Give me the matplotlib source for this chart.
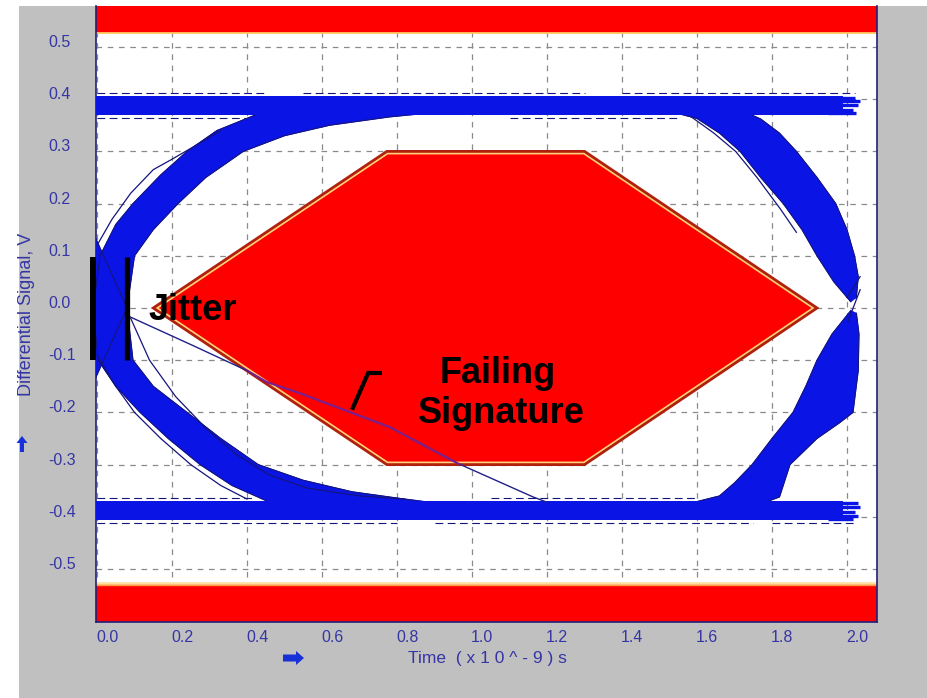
import matplotlib
matplotlib.use("Agg")
import matplotlib.pyplot as plt
from matplotlib.patches import Polygon, Rectangle
from matplotlib.transforms import offset_copy, IdentityTransform

plt.rcParams['font.family'] = ['Liberation Sans', 'DejaVu Sans']

# ---------------------------------------------------------------- data
X_TICKS = [0.0, 0.2, 0.4, 0.6, 0.8, 1.0, 1.2, 1.4, 1.6, 1.8, 2.0]
X_TICK_LABELS = ['0.0', '0.2', '0.4', '0.6', '0.8', '1.0', '1.2', '1.4', '1.6', '1.8', '2.0']
Y_TICKS = [0.5, 0.4, 0.3, 0.2, 0.1, 0.0, -0.1, -0.2, -0.3, -0.4, -0.5]
Y_TICK_LABELS = ['0.5', '0.4', '0.3', '0.2', '0.1', '0.0', '-0.1', '-0.2', '-0.3', '-0.4', '-0.5']

# eye mask (hexagon) and the upper / lower limit bands
MASK_X = [0.15, 0.773, 1.30, 1.92, 1.30, 0.773]
MASK_Y = [0.0, 0.30, 0.30, 0.0, -0.30, -0.30]
LIMIT_LEVEL = 0.527

# logic-level rails (start, end, upper edge, lower edge)
TOP_RAIL = [-0.01, 1.99, 0.407, 0.369]
BOTTOM_RAIL = [-0.01, 1.99, -0.369, -0.407]
TOP_FINGER_Y = [0.403, 0.396, 0.388, 0.380, 0.373]
TOP_FINGER_END = [2.02, 2.035, 2.03, 2.015, 2.025]
BOTTOM_FINGER_Y = [-0.374, -0.382, -0.390, -0.398, -0.404]
BOTTOM_FINGER_END = [2.03, 2.035, 2.02, 2.03, 2.015]

# rising edge from the left crossing up to the high rail
RISE_L_UP_X = [-0.06, -0.01, 0.008, 0.05, 0.096, 0.17, 0.24, 0.32, 0.43, 0.55]
RISE_L_UP_Y = [-0.12, 0.0, 0.10, 0.16, 0.20, 0.255, 0.30, 0.34, 0.372, 0.378]
RISE_L_LO_X = [-0.02, 0.08, 0.10, 0.15, 0.216, 0.29, 0.39, 0.50, 0.62, 0.78, 0.95]
RISE_L_LO_Y = [-0.16, 0.0, 0.10, 0.15, 0.20, 0.25, 0.30, 0.33, 0.35, 0.366, 0.378]

# falling edge from the left crossing down to the low rail
FALL_L_UP_X = [-0.02, 0.08, 0.096, 0.15, 0.24, 0.33, 0.43, 0.55, 0.68, 0.80, 0.95]
FALL_L_UP_Y = [0.16, 0.0, -0.10, -0.15, -0.20, -0.25, -0.30, -0.33, -0.352, -0.364, -0.378]
FALL_L_LO_X = [-0.06, -0.01, 0.003, 0.05, 0.115, 0.19, 0.275, 0.36, 0.46, 0.55]
FALL_L_LO_Y = [0.12, 0.0, -0.10, -0.15, -0.20, -0.25, -0.30, -0.34, -0.372, -0.378]

# falling edge from the high rail into the right crossing
FALL_R_A_X = [1.52, 1.60, 1.66, 1.715, 1.77, 1.83, 1.88, 1.92, 1.965, 2.01]
FALL_R_A_Y = [0.378, 0.363, 0.335, 0.30, 0.25, 0.20, 0.15, 0.10, 0.05, 0.012]
FALL_R_B_X = [1.72, 1.77, 1.82, 1.865, 1.92, 1.97, 2.0, 2.02, 2.03, 2.025]
FALL_R_B_Y = [0.378, 0.362, 0.335, 0.30, 0.25, 0.20, 0.15, 0.10, 0.06, 0.02]

# rising edge from the low rail into the right crossing
RISE_R_A_X = [1.56, 1.66, 1.70, 1.747, 1.80, 1.856, 1.89, 1.92, 1.96, 2.01]
RISE_R_A_Y = [-0.378, -0.36, -0.335, -0.30, -0.25, -0.20, -0.15, -0.10, -0.05, -0.005]
RISE_R_B_X = [1.76, 1.82, 1.848, 1.92, 1.98, 2.016, 2.03, 2.032, 2.025]
RISE_R_B_Y = [-0.378, -0.362, -0.30, -0.25, -0.22, -0.20, -0.12, -0.05, -0.01]

# stray traces just outside the main bundles
TRACE_1_X = [0.0, 0.05, 0.10, 0.17, 0.25, 0.33, 0.40]
TRACE_1_Y = [-0.09, -0.15, -0.20, -0.25, -0.30, -0.34, -0.366]
TRACE_2_X = [0.09, 0.14, 0.21, 0.29, 0.37, 0.46, 0.56, 0.70, 0.82]
TRACE_2_Y = [-0.02, -0.10, -0.17, -0.23, -0.28, -0.32, -0.345, -0.36, -0.366]
TRACE_3_X = [0.0, 0.04, 0.09, 0.15, 0.20, 0.26, 0.33]
TRACE_3_Y = [0.12, 0.17, 0.22, 0.265, 0.285, 0.31, 0.34]
TRACE_4_X = [1.585, 1.645, 1.703, 1.760, 1.822, 1.865]
TRACE_4_Y = [0.366, 0.335, 0.30, 0.25, 0.19, 0.145]
CROSS_1_X = [2.035, 2.003]
CROSS_1_Y = [0.035, -0.025]
CROSS_2_X = [2.0, 2.035]
CROSS_2_Y = [0.02, 0.06]

# rail outline traces: level and the stretches where they are visible
RAIL_TRACE_LEVELS = [0.412, 0.364, -0.364, -0.412]
RAIL_TRACE_SPANS = [[(0.0, 0.45), (0.55, 1.30), (1.40, 2.02)],
                    [(0.0, 0.40), (1.10, 1.55)],
                    [(0.0, 0.42), (1.05, 1.60)],
                    [(0.0, 0.80), (0.90, 1.75), (1.80, 2.02)]]

# the failing trace that cuts through the mask
FAIL_X = [0.088, 0.25, 0.40, 0.453, 0.54, 0.78, 0.96, 1.163, 1.20]
FAIL_Y = [-0.017, -0.07, -0.12, -0.142, -0.163, -0.228, -0.297, -0.362, -0.372]

# annotations
JITTER_X = [-0.012, 0.079]
JITTER_Y = [0.098, -0.100]
POINTER_X = [0.68, 0.723, 0.76]
POINTER_Y = [-0.195, -0.1245, -0.1245]

# ---------------------------------------------------------------- style
W, H, DPI = 927, 698, 100
GRAY = '#c0c0c0'
BLUE = '#0a14e4'
NAVY = '#14147e'
LABEL = '#3535a5'
RED = '#ff0000'

fig = plt.figure(figsize=(W / DPI, H / DPI), dpi=DPI)
fig.patch.set_facecolor('white')
fig.add_artist(Rectangle((19 / W, 0), 1 - 19 / W, (H - 6) / H,
                         transform=fig.transFigure, facecolor=GRAY,
                         edgecolor='none', zorder=0))

ax = fig.add_axes([96 / W, 1 - 622 / H, (877 - 96) / W, (622 - 6) / H])
ax.set_facecolor('white')
ax.set_xlim(-0.0027, 2.08)
ax.set_ylim(-0.6015, 0.5785)

ax.set_xticks(X_TICKS)
ax.set_yticks(Y_TICKS)
ax.tick_params(length=0, labelbottom=False, labelleft=False)
ax.set_axisbelow(True)
ax.grid(True, color='#8a8a8a', linestyle=(0, (4.5, 4.5)), linewidth=0.9)

for side in ('left', 'right', 'bottom'):
    ax.spines[side].set_color('#20207a')
    ax.spines[side].set_linewidth(1.2)
ax.spines['top'].set_visible(False)

# tick labels: left aligned, sitting on their grid line / under the tick
xlab_tr = offset_copy(ax.get_xaxis_transform(), fig=fig, x=-1, y=-20, units='dots')
for v, s in zip(X_TICKS, X_TICK_LABELS):
    ax.text(v, 0, s, transform=xlab_tr, ha='left', va='baseline',
            fontsize=11.5, color=LABEL, clip_on=False)
ylab_tr = offset_copy(ax.get_yaxis_transform(), fig=fig, x=-48, y=0, units='dots')
for v, s in zip(Y_TICKS, Y_TICK_LABELS):
    ax.text(0, v, s, transform=ylab_tr, ha='left', va='baseline',
            fontsize=11.5, color=LABEL, clip_on=False)

fig.text(408 / W, 1 - 663 / H, 'Time  ( x 1 0 ^ - 9 ) s', ha='left',
         va='baseline', fontsize=12.5, color=LABEL)
fig.text(27 / W, 1 - 314 / H, 'Differential Signal, V', rotation=90,
         ha='center', va='center', fontsize=13, color=LABEL)


def px_poly(pts, color):
    """Small arrow glyph given in pixel offsets from the top-left corner."""
    verts = [(x, H - y) for x, y in pts]
    fig.add_artist(Polygon(verts, closed=True, transform=IdentityTransform(),
                           facecolor=color, edgecolor='none', zorder=5))


px_poly([(22, 436), (27.5, 443), (24, 443), (24, 452), (20, 452), (20, 443), (16.5, 443)], '#1830d8')
px_poly([(304, 658), (296, 651), (296, 654.5), (283, 654.5), (283, 661.5), (296, 661.5), (296, 665)], '#1830d8')

# limit bands
ax.axhspan(LIMIT_LEVEL, 1.0, facecolor=RED, edgecolor='none', zorder=2)
ax.axhspan(-1.0, -LIMIT_LEVEL, facecolor=RED, edgecolor='none', zorder=2)
ax.axhline(LIMIT_LEVEL, color='#ffc860', lw=1.3, zorder=2.1)
ax.axhline(-LIMIT_LEVEL, color='#ffe0a0', lw=2.0, zorder=2.1)
ax.axhline(-LIMIT_LEVEL - 0.004, color='#ff9a40', lw=1.0, zorder=2.1)

# eye mask
mask_xy = list(zip(MASK_X, MASK_Y))
mask = Polygon(mask_xy, closed=True, facecolor=RED, edgecolor='none', zorder=3)
ax.add_patch(mask)
inner = Polygon(mask_xy, closed=True, fill=False, edgecolor='#ffd27a', lw=4.4, zorder=3.1)
ax.add_patch(inner)
inner.set_clip_path(mask)
ax.add_patch(Polygon(mask_xy, closed=True, fill=False, edgecolor='#b0200c', lw=2.0, zorder=3.2))


def band(ax_, ux, uy, lx, ly):
    pts = list(zip(ux, uy)) + list(zip(lx[::-1], ly[::-1]))
    ax_.add_patch(Polygon(pts, closed=True, facecolor=BLUE, edgecolor=BLUE,
                          lw=0.6, joinstyle='round', zorder=4))
    ax_.plot(ux, uy, color=NAVY, lw=0.8, zorder=4.2)
    ax_.plot(lx, ly, color=NAVY, lw=0.8, zorder=4.2)


# rails
for x0, x1, hi, lo in (TOP_RAIL, BOTTOM_RAIL):
    ax.fill_between([x0, x1], [hi, hi], [lo, lo], facecolor=BLUE, edgecolor='none', zorder=4.3)
for yv, xe in zip(TOP_FINGER_Y, TOP_FINGER_END):
    ax.plot([1.95, xe], [yv, yv], color=BLUE, lw=2.4, solid_capstyle='butt', zorder=4.3)
for yv, xe in zip(BOTTOM_FINGER_Y, BOTTOM_FINGER_END):
    ax.plot([1.95, xe], [yv, yv], color=BLUE, lw=2.4, solid_capstyle='butt', zorder=4.3)

# rail outline traces
for yv, spans in zip(RAIL_TRACE_LEVELS, RAIL_TRACE_SPANS):
    for xa, xb in spans:
        ax.plot([xa, xb], [yv, yv], color=NAVY, lw=0.8, linestyle=(0, (7, 4)), zorder=4)

# transition bundles
band(ax, RISE_L_UP_X, RISE_L_UP_Y, RISE_L_LO_X, RISE_L_LO_Y)
band(ax, FALL_L_UP_X, FALL_L_UP_Y, FALL_L_LO_X, FALL_L_LO_Y)
band(ax, FALL_R_A_X, FALL_R_A_Y, FALL_R_B_X, FALL_R_B_Y)
band(ax, RISE_R_A_X, RISE_R_A_Y, RISE_R_B_X, RISE_R_B_Y)

for tx, ty in ((TRACE_1_X, TRACE_1_Y), (TRACE_2_X, TRACE_2_Y), (TRACE_3_X, TRACE_3_Y),
               (TRACE_4_X, TRACE_4_Y), (CROSS_1_X, CROSS_1_Y), (CROSS_2_X, CROSS_2_Y)):
    ax.plot(tx, ty, color=NAVY, lw=0.9, zorder=4.5)

# failing trace (tinted where it runs over the mask)
ax.plot(FAIL_X, FAIL_Y, color='#202088', lw=1.0, zorder=5)
inside, = ax.plot(FAIL_X, FAIL_Y, color='#7a2090', lw=1.5, zorder=5.1)
inside.set_clip_path(mask)

# annotations
for xv in JITTER_X:
    ax.plot([xv, xv], JITTER_Y, color='black', lw=4.3 if xv < 0 else 3.8,
            solid_capstyle='butt', clip_on=False, zorder=8)
ax.text(0.136, -0.023, 'Jitter', fontsize=26, fontweight='bold', color='black',
        ha='left', va='baseline', zorder=9)
ax.plot(POINTER_X, POINTER_Y, color='black', lw=3.0, solid_capstyle='butt',
        solid_joinstyle='miter', zorder=9)
ax.text(1.069, -0.1437, 'Failing', fontsize=26, fontweight='bold', color='black',
        ha='center', va='baseline', zorder=9)
ax.text(1.077, -0.221, 'Signature', fontsize=26, fontweight='bold', color='black',
        ha='center', va='baseline', zorder=9)

fig.savefig('out.png', dpi=DPI)
